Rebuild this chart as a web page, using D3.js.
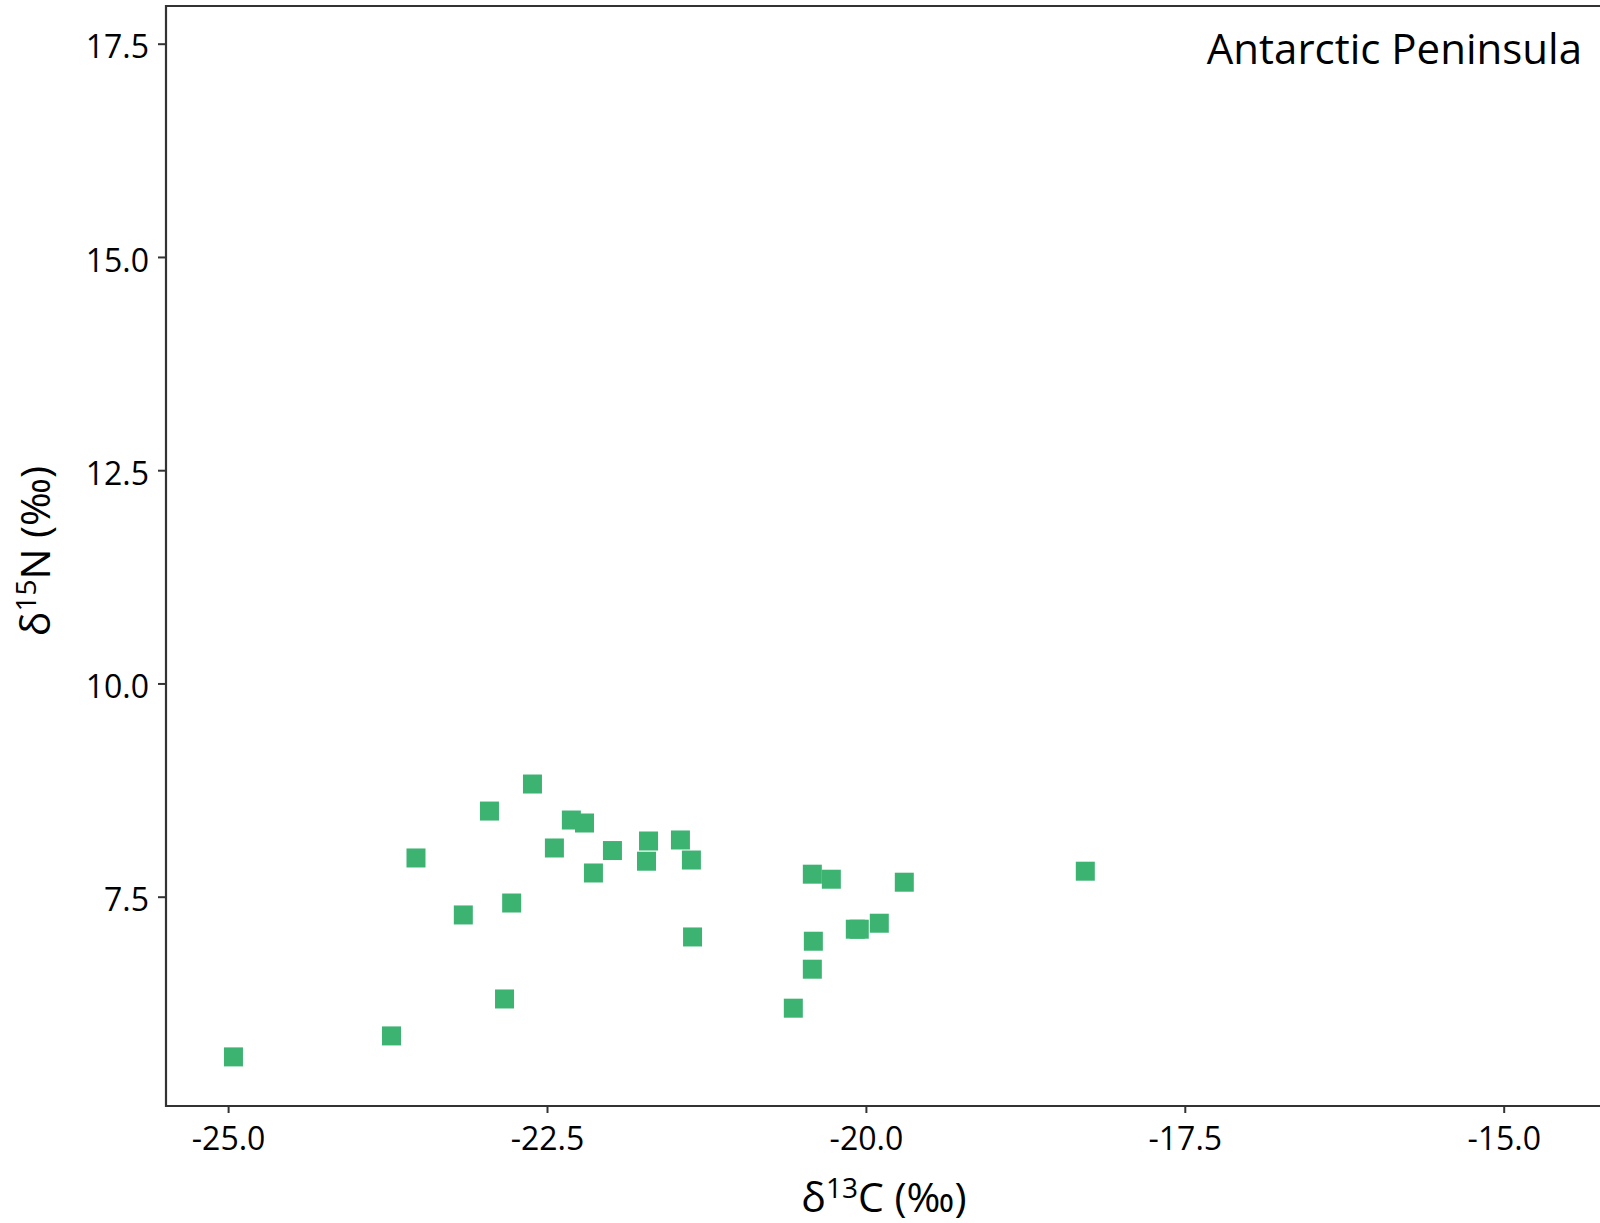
<!DOCTYPE html>
<html>
<head>
<meta charset="utf-8">
<script src="https://cdn.jsdelivr.net/npm/d3@7"></script>
<style>
  html, body { margin: 0; padding: 0; background: #fff; }
  svg { display: block; }
  text { font-family: "Open Sans", "Noto Sans", sans-serif; fill: #000; }
</style>
</head>
<body>
<svg id="chart" width="1600" height="1223"></svg>
<script>
// ---- data ----
const title = "Antarctic Peninsula";
const d13C = [
  -22.614, -22.951, -22.309, -22.206, -22.442, -21.987, -21.704, -21.454,
  -21.720, -21.368, -22.136, -23.527, -22.777, -23.156, -21.359, -22.833,
  -23.719, -24.958,
  -20.420, -20.271, -19.699, -18.280, -20.083, -20.052, -19.895, -20.412,
  -20.420, -20.569
];
const d15N = [
  8.821, 8.504, 8.399, 8.364, 8.071, 8.041, 8.153, 8.165,
  7.916, 7.930, 7.778, 7.954, 7.426, 7.286, 7.028, 6.301,
  5.868, 5.622,
  7.764, 7.705, 7.670, 7.799, 7.119, 7.119, 7.189, 6.978,
  6.650, 6.193
];
const xTicks = [-25.0, -22.5, -20.0, -17.5, -15.0];
const yTicks = [7.5, 10.0, 12.5, 15.0, 17.5];

// ---- layout ----
const svg = d3.select("#chart");
const panel = { left: 166, top: 6, right: 1620, bottom: 1106 };
const x = d3.scaleLinear().domain([-25, -15]).range([228.1, 1503.7]);
const y = d3.scaleLinear().domain([7.5, 17.5]).range([896.7, 43.7]);
const fmt = v => d3.format(".1f")(v).replace("\u2212", "-");
const axisColor = "#333333";

// points
const pts = d13C.map((c, i) => ({ c, n: d15N[i] }));
const size = 19;
svg.append("g").selectAll("rect").data(pts).join("rect")
  .attr("x", d => x(d.c) - size / 2)
  .attr("y", d => y(d.n) - size / 2)
  .attr("width", size).attr("height", size)
  .attr("fill", "#3cb371");

// panel frame (left, top, bottom; right edge runs off the image)
svg.append("path")
  .attr("d", `M${panel.right},${panel.top}H${panel.left}V${panel.bottom}H${panel.right}`)
  .attr("fill", "none").attr("stroke", axisColor).attr("stroke-width", 2.2);

// x axis
const gx = svg.append("g").attr("transform", `translate(0,${panel.bottom})`)
  .call(d3.axisBottom(x).tickValues(xTicks).tickFormat(fmt).tickSize(7).tickPadding(14));
gx.select(".domain").remove();
gx.selectAll(".tick line").attr("stroke", axisColor).attr("stroke-width", 2);
gx.selectAll(".tick text").attr("font-size", 32).attr("font-family", "Open Sans").attr("fill", "#000");

// y axis
const gy = svg.append("g").attr("transform", `translate(${panel.left},0)`)
  .call(d3.axisLeft(y).tickValues(yTicks).tickFormat(fmt).tickSize(8).tickPadding(9));
gy.select(".domain").remove();
gy.selectAll(".tick line").attr("stroke", axisColor).attr("stroke-width", 2);
gy.selectAll(".tick text").attr("font-size", 32).attr("font-family", "Open Sans").attr("fill", "#000")
  .attr("dy", "0.44em");

// axis titles
const xl = svg.append("text").attr("x", 884).attr("y", 1212)
  .attr("text-anchor", "middle").attr("font-size", 41);
xl.append("tspan").text("δ");
xl.append("tspan").text("13").attr("font-size", 28).attr("dy", -14);
xl.append("tspan").text("C (‰)").attr("dy", 14);

const yl = svg.append("text")
  .attr("transform", "translate(50,551) rotate(-90)")
  .attr("text-anchor", "middle").attr("font-size", 41);
yl.append("tspan").text("δ");
yl.append("tspan").text("15").attr("font-size", 28).attr("dy", -14);
yl.append("tspan").text("N (‰)").attr("dy", 14);

// panel label
svg.append("text").attr("x", 1582).attr("y", 64)
  .attr("text-anchor", "end").attr("font-size", 42).text(title);
</script>
</body>
</html>
